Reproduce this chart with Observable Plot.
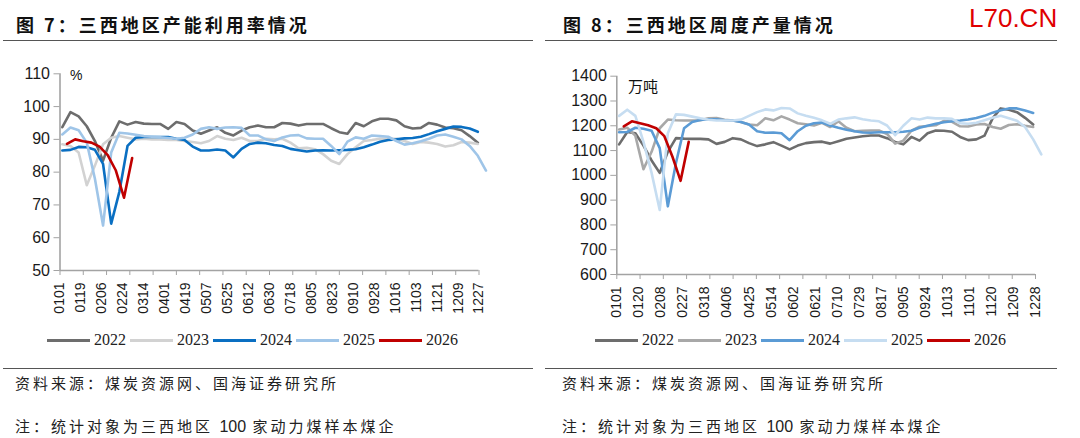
<!DOCTYPE html>
<html>
<head>
<meta charset="utf-8">
<script src="https://cdn.jsdelivr.net/npm/d3@7"></script>
<script src="https://cdn.jsdelivr.net/npm/@observablehq/plot@0.6"></script>
<style>
  html, body { margin: 0; padding: 0; background: #fff; }
  #root { position: relative; width: 1080px; height: 438px; overflow: hidden; background: #fff; }
  .abs { position: absolute; white-space: nowrap; }
  .title { font-family: "Noto Sans CJK SC", sans-serif; font-weight: 700; font-size: 18px; letter-spacing: 3px; color: #111; line-height: 1; }
  .note { font-family: "Noto Sans CJK SC", sans-serif; font-weight: 400; font-size: 15px; letter-spacing: 3px; color: #222; line-height: 1; }
  .num { letter-spacing: 0; font-family: "Liberation Sans", Arial, sans-serif; font-size: 16px; }
  .hr { position: absolute; height: 0; border-top: 1.3px solid #555; }
  .legend { position: absolute; display: flex; align-items: center; font-family: "Liberation Serif", "Times New Roman", serif; font-size: 16px; color: #222; }
  .legend .sw { display: inline-block; width: 43px; height: 3px; margin-right: 4px; }
  .legend .it { display: flex; align-items: center; margin-right: 4px; }
  .unit { font-family: "Noto Sans CJK SC", "Liberation Sans", sans-serif; color: #111; line-height: 1; }
</style>
</head>
<body>
<div id="root">
  <div class="abs title" style="left:16px; top:15px;">图 7：三西地区产能利用率情况</div>
  <div class="abs title" style="left:563px; top:15px;">图 8：三西地区周度产量情况</div>
  <div class="abs" style="left:969px; top:3px; font-family:'Liberation Sans', Arial, sans-serif; font-size:26px; color:#e00000;">L70.CN</div>
  <div class="hr" style="left:3px; width:530px; top:40px;"></div>
  <div class="hr" style="left:545px; width:512px; top:40px;"></div>
  <div id="chartL" class="abs" style="left:0; top:55px;"></div>
  <div id="chartR" class="abs" style="left:540px; top:55px;"></div>
  <div class="abs unit" style="left:70px; top:68px; font-family:'Liberation Sans', Arial, sans-serif; font-size:14px;">%</div>
  <div class="abs unit" style="left:628px; top:78px; font-size:15px;">万吨</div>
  <div id="legL" class="legend" style="left:47px; top:331px;"></div>
  <div id="legR" class="legend" style="left:595px; top:331px;"></div>
  <div class="hr" style="left:3px; width:530px; top:368px;"></div>
  <div class="hr" style="left:545px; width:512px; top:368px;"></div>
  <div class="abs note" style="left:15px; top:375px;">资料来源：煤炭资源网、国海证券研究所</div>
  <div class="abs note" style="left:562px; top:375px;">资料来源：煤炭资源网、国海证券研究所</div>
  <div class="abs note" style="left:15px; top:418px;">注：统计对象为三西地区 <span class="num">100</span> 家动力煤样本煤企</div>
  <div class="abs note" style="left:562px; top:418px;">注：统计对象为三西地区 <span class="num">100</span> 家动力煤样本煤企</div>
</div>
<script>
// ---------- data ----------
const years = ["2022", "2023", "2024", "2025", "2026"];
const weekStart = "0103";      // first weekly observation, 2022-2025
const weekStart2026 = "0107";  // first weekly observation, 2026

// Left chart: capacity utilisation (%)
const labelsL = ["0101","0119","0206","0224","0314","0401","0419","0507","0525","0612","0630","0718","0805","0823","0910","0928","1016","1103","1121","1209","1227"];
const yTicksL = [50, 60, 70, 80, 90, 100, 110];
const util2022 = [93.7,98.3,97,94,89.5,83.5,90.5,95.5,94.5,95.3,94.8,94.7,94.7,93.2,95.3,94.7,92.7,91.7,92.7,93.7,92,91.2,92.7,93.7,94.2,93.7,93.7,95,94.8,94.2,94.7,94.7,94.7,93.4,92.2,91.7,95,94,95.5,96.3,96.3,95.8,94,93.3,93.5,95,94.5,93.6,93.4,92.8,91,89];
const util2023 = [88.5,88,86,76,82,88.5,90.5,91,90.5,90,90.2,90,90,89.8,89.8,89.5,89.2,88.8,89.5,91,90.2,89.8,90.5,89.5,89.5,90.2,90,90.2,89,87.3,87.4,87,85.5,83.5,82.5,85.5,87.6,89.5,89.8,90.2,90.2,90.2,89.5,88.6,89.2,89,88.6,87.8,88.2,89.2,89,88.6];
const util2024 = [86.6,86.8,87.7,87.6,86.8,82.5,64.3,74,88,90.5,90.7,90.7,90.7,90.7,90.2,89.8,87.8,86.6,86.6,86.9,86.6,84.5,87.1,88.6,89,88.8,88.3,88,87.1,86.7,86.3,86.6,86.7,86.6,86.7,86.8,87,87.6,88.4,89.3,89.8,90,90.3,90.4,90.8,91.6,92.5,93.2,93.9,93.8,93.3,92.3];
const util2025 = [91.5,93.6,92.8,89,78,63.7,86,92,91.8,91.4,91,90.8,90.6,90.4,90.2,90.5,91.5,93.2,93.7,93.2,93.6,93.7,93.5,91.2,91.2,90,89.5,90.6,91.2,91.3,90.3,90.2,90.2,88,85.5,89.3,90.6,90.2,91.2,91,90.8,89.5,88.4,88.8,89.4,90.2,91.2,91.5,90.8,90,88,85,80.5];
const util2026 = [88.6,90,89.4,89,87.8,85.2,80.5,72.2,84.3];

// Right chart: weekly output (10k t)
const labelsR = ["0101","0120","0208","0227","0318","0406","0425","0514","0602","0621","0710","0729","0817","0905","0924","1013","1101","1120","1209","1228"];
const yTicksR = [600, 700, 800, 900, 1000, 1100, 1200, 1300, 1400];
const out2022 = [1125,1175,1170,1120,1060,1010,1095,1150,1148,1147,1147,1145,1127,1135,1150,1145,1130,1118,1125,1134,1120,1105,1120,1130,1134,1136,1128,1138,1148,1153,1158,1161,1161,1150,1135,1125,1155,1140,1170,1181,1180,1176,1155,1142,1145,1160,1230,1270,1265,1255,1232,1205];
const out2023 = [1185,1192,1160,1025,1095,1190,1225,1222,1221,1221,1222,1230,1231,1224,1221,1215,1205,1202,1230,1222,1238,1225,1210,1206,1201,1212,1195,1218,1192,1178,1180,1181,1181,1167,1128,1140,1180,1196,1199,1202,1220,1216,1198,1197,1205,1207,1195,1188,1203,1206,1200,1195];
const out2024 = [1174,1175,1192,1188,1180,1110,875,1050,1190,1215,1223,1226,1226,1222,1221,1215,1205,1178,1172,1173,1170,1142,1178,1200,1210,1213,1201,1192,1184,1178,1173,1172,1174,1174,1174,1176,1180,1192,1200,1208,1214,1218,1221,1225,1231,1240,1253,1263,1270,1270,1262,1252];
const out2025 = [1240,1265,1240,1135,1010,860,1170,1246,1244,1237,1230,1224,1221,1221,1221,1225,1240,1255,1266,1262,1272,1270,1250,1240,1232,1222,1208,1225,1230,1234,1226,1221,1218,1201,1162,1200,1230,1225,1233,1230,1230,1228,1210,1208,1212,1222,1232,1240,1230,1220,1195,1145,1085];
const out2026 = [1198,1218,1210,1202,1190,1158,1075,978,1135];

const colorsL = ["#6d6d6d", "#d2d2d2", "#0a6fc2", "#9fc5e8", "#c00000"];
const colorsR = ["#6d6d6d", "#a8a8a8", "#5b9bd5", "#c6ddf1", "#c00000"];

// ---------- helpers ----------
const base = Date.UTC(2022, 0, 1);
const dayOf = s => d3.utcDay.count(new Date(base), new Date(Date.UTC(2022, +s.slice(0, 2) - 1, +s.slice(2))));
function rows(values, year, start) {
  const d0 = dayOf(start);
  return values.map((v, i) => ({year, day: d0 + 7 * i, v}));
}
function build(series) {
  return series.flatMap(([vals, yr]) => rows(vals, yr, yr === "2026" ? weekStart2026 : weekStart));
}

const dataL = build([[util2022, "2022"], [util2023, "2023"], [util2024, "2024"], [util2025, "2025"], [util2026, "2026"]]);
const dataR = build([[out2022, "2022"], [out2023, "2023"], [out2024, "2024"], [out2025, "2025"], [out2026, "2026"]]);

function chart({data, labels, yTicks, colors, width, height, mL, mR, mT, mB, xMax, yDom}) {
  const labelDays = labels.map(dayOf);
  const lab = new Map(labelDays.map((d, i) => [d, labels[i]]));
  const tickDays = d3.range(19).map(i => i * xMax / 18);
  const axisGray = "#a3a3a3";
  return Plot.plot({
    width, height,
    marginLeft: mL, marginRight: mR, marginTop: mT, marginBottom: mB,
    style: {fontFamily: "'Liberation Sans', Arial, sans-serif", background: "transparent", overflow: "visible"},
    x: {domain: [0, xMax]},
    y: {domain: yDom},
    color: {domain: years, range: colors},
    marks: [
      Plot.ruleY([yDom[0]], {stroke: axisGray, strokeWidth: 1.6}),
      Plot.ruleX([0], {y1: yDom[0], y2: yDom[1], stroke: axisGray, strokeWidth: 1.6}),
      Plot.axisY(yTicks, {tickSize: 6, tickPadding: 4, stroke: axisGray, fill: "#1a1a1a", fontSize: 16, tickFormat: d => String(d), label: null}),
      Plot.axisX(tickDays, {tickSize: 5, stroke: axisGray, tickFormat: () => "", label: null}),
      Plot.axisX(labelDays, {tickSize: 0, tickPadding: 12, tickRotate: -90, fill: "#1a1a1a", fontSize: 14, tickFormat: d => lab.get(d), label: null}),
      Plot.line(data, {x: "day", y: "v", z: "year", stroke: "year", strokeWidth: 2.6, strokeLinejoin: "round", curve: "linear"})
    ]
  });
}

document.getElementById("chartL").appendChild(chart({
  data: dataL, labels: labelsL, yTicks: yTicksL, colors: colorsL,
  width: 540, height: 265, mL: 59.5, mR: 61.5, mT: 18.3, mB: 50, xMax: 360, yDom: [50, 110]
}));
document.getElementById("chartR").appendChild(chart({
  data: dataR, labels: labelsR, yTicks: yTicksR, colors: colorsR,
  width: 540, height: 265, mL: 76.3, mR: 45, mT: 20.7, mB: 46, xMax: 361, yDom: [600, 1400]
}));

function legend(el, colors) {
  const root = document.getElementById(el);
  years.forEach((y, i) => {
    const it = document.createElement("div");
    it.className = "it";
    it.innerHTML = `<span class="sw" style="background:${colors[i]}"></span><span>${y}</span>`;
    root.appendChild(it);
  });
}
legend("legL", colorsL);
legend("legR", colorsR);
</script>
</body>
</html>
